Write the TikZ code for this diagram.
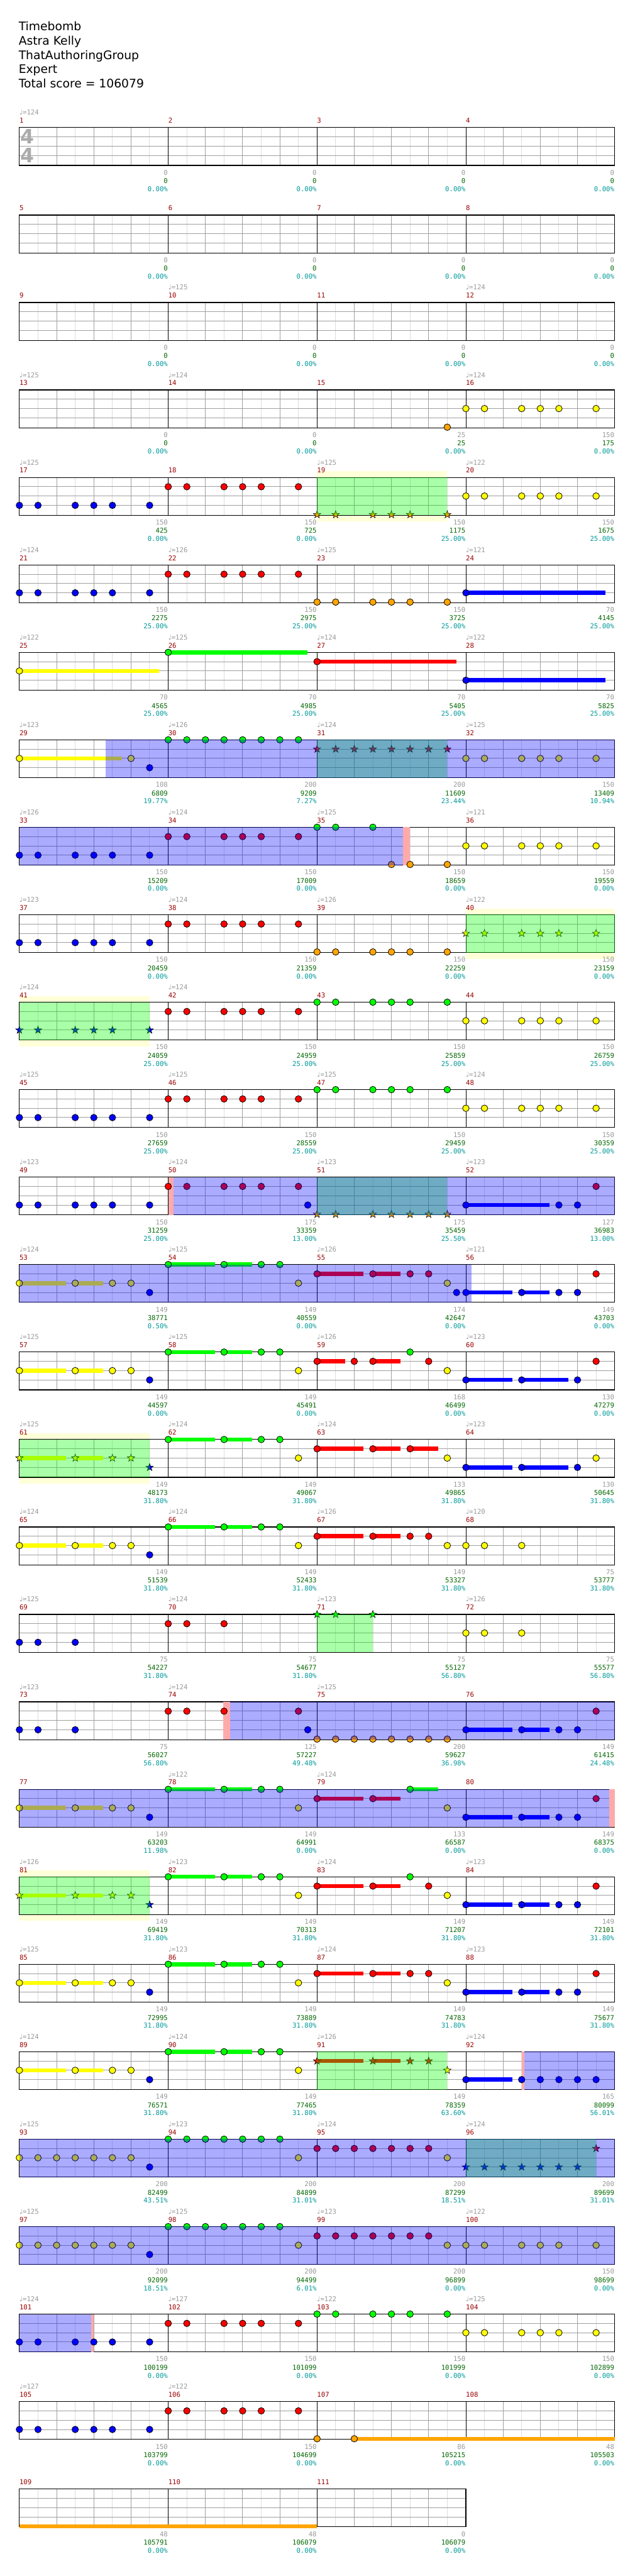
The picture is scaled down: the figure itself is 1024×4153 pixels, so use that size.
\documentclass[tikz,border=0pt]{standalone}
\usepackage{fontspec}
\setmainfont{DejaVu Sans}
\newfontfamily\monof{DejaVu Sans Mono}
\newfontfamily\dejav{DejaVu Sans}
\usetikzlibrary{shapes.geometric}
\definecolor{cG}{HTML}{00FF00}
\definecolor{cR}{HTML}{FF0000}
\definecolor{cY}{HTML}{FFFF00}
\definecolor{cB}{HTML}{0000FF}
\definecolor{cO}{HTML}{FFA500}
\definecolor{gridL}{HTML}{DDDDDD}
\definecolor{gridB}{HTML}{A0A0A0}
\definecolor{bandY}{HTML}{FFFFD8}
\definecolor{pinkC}{HTML}{FFAAAA}
\definecolor{mnumC}{HTML}{990000}
\definecolor{grayC}{HTML}{999999}
\definecolor{greenC}{HTML}{006600}
\definecolor{cyanC}{HTML}{009999}
\tikzset{
  mnum/.style={anchor=base west,inner sep=0pt,text=mnumC,font=\monof\fontsize{10.8}{12}\selectfont},
  tempo/.style={anchor=base west,inner sep=0pt,text=grayC,font=\monof\fontsize{10.8}{12}\selectfont},
  lblA/.style={anchor=base east,inner sep=0pt,text=grayC,font=\monof\fontsize{10.8}{12}\selectfont},
  lblB/.style={anchor=base east,inner sep=0pt,text=greenC,font=\monof\fontsize{10.8}{12}\selectfont},
  lblC/.style={anchor=base east,inner sep=0pt,text=cyanC,font=\monof\fontsize{10.8}{12}\selectfont},
  head/.style={anchor=base west,inner sep=0pt,text=black,font=\fontsize{19}{23}\selectfont},
  starnote/.style={star,star points=5,star point ratio=2.5,minimum size=12.6pt,inner sep=0pt,draw=black,line width=.6pt},
  spG/.style={fill=cG,fill opacity=0.34},
  spB/.style={fill=cB,fill opacity=0.33}
}
% staff: row, number of measures
\newcommand\Staff[2]{%
 \pgfmathsetmacro\sT{205.7+141*(#1)}%
 \pgfmathsetmacro\sR{31.3+240*(#2)}%
 \pgfmathtruncatemacro\nn{8*(#2)-1}%
 \pgfmathtruncatemacro\ne{8*(#2)-2}%
 \pgfmathtruncatemacro\nm{#2-1}%
 \fill[white] (31.3,\sT) rectangle (\sR,\sT+61);
 \foreach \j in {1,3,...,\nn}{\draw[gridL,line width=1pt] ({31.3+30*\j},\sT) -- ({31.3+30*\j},\sT+61);}
 \foreach \lnv in {15,30,45}{\draw[gridB,line width=1pt] (31.3,\sT+\lnv) -- (\sR,\sT+\lnv);}
 \foreach \j in {2,4,...,\ne}{\draw[gridB,line width=1pt] ({31.3+30*\j},\sT) -- ({31.3+30*\j},\sT+61);}
 \foreach \k in {1,...,\nm}{\draw[black,line width=1pt] ({31.3+240*\k},\sT) -- ({31.3+240*\k},\sT+61);}
 \draw[black,line width=1.2pt] (31.3,\sT) rectangle (\sR,\sT+61);
}
% notes: row, lane, colour, list of eighth positions
\newcommand\Nt[4]{\foreach \e in {#4}{\filldraw[fill=#3,draw=black,line width=.8pt] ({31.3+30*\e},{205.7+141*(#1)+15*(#2)}) circle[radius=5.3pt];}}
\newcommand\St[4]{\foreach \e in {#4}{\node[starnote,fill=#3] at ({31.3+30*\e},{205.7+141*(#1)+15*(#2)}) {};}}
% sustain: row, lane, colour, from, to
\newcommand\Su[5]{\fill[#3] ({31.3+30*(#4)},{205.7+141*(#1)+15*(#2)-3.3}) rectangle ({31.3+30*(#5)},{205.7+141*(#1)+15*(#2)+3.3});}
% regions: row, from, to
\newcommand\Band[3]{\fill[bandY] ({31.3+30*(#2)},{205.7+141*(#1)-10}) rectangle ({31.3+30*(#3)},{205.7+141*(#1)+71});}
\newcommand\Pk[3]{\fill[pinkC] ({31.3+30*(#2)},{205.7+141*(#1)}) rectangle ({31.3+30*(#3)},{205.7+141*(#1)+61});}
\newcommand\OvG[3]{\fill[spG] ({31.3+30*(#2)},{205.7+141*(#1)}) rectangle ({31.3+30*(#3)},{205.7+141*(#1)+61});}
\newcommand\OvB[3]{\fill[spB] ({31.3+30*(#2)},{205.7+141*(#1)}) rectangle ({31.3+30*(#3)},{205.7+141*(#1)+61});}
% measure texts: row, slot, number, tempo, a, b, c
\newcommand\Ms[7]{%
 \pgfmathsetmacro\mT{205.7+141*(#1)}%
 \pgfmathsetmacro\mL{31.3+240*(#2)}%
 \node[mnum] (m#3n) at (\mL,\mT-7.3) {#3};
 \if\relax\detokenize{#4}\relax\else\node[tempo] (m#3t) at (\mL,\mT-20.3) {{\dejav ♩}=#4};\fi
 \node[lblA] (m#3a) at (\mL+239.5,\mT+76.5) {#5};
 \node[lblB] (m#3b) at (\mL+239.5,\mT+90) {#6};
 \node[lblC] (m#3c) at (\mL+239.5,\mT+103) {#7};
}
\begin{document}
\begin{tikzpicture}[x=1pt,y=-1pt]
\useasboundingbox (0,0) rectangle (1024,4153);
\fill[white] (0,0) rectangle (1024,4153);
% header
\node[head] (title) at (30,49.3) {Timebomb};
\node[head] (artist) at (30,72.4) {Astra Kelly};
\node[head] (charter) at (30,95.5) {ThatAuthoringGroup};
\node[head] (diff) at (30,118.6) {Expert};
\node[head] (total) at (30,141.7) {Total score = 106079};
% rows 0-2
\Staff{0}{4}\Staff{1}{4}\Staff{2}{4}
\node[anchor=center,inner sep=0pt,text=black!33,font=\bfseries\fontsize{32}{32}\selectfont] (tsA) at (44.5,220) {4};
\node[anchor=center,inner sep=0pt,text=black!33,font=\bfseries\fontsize{32}{32}\selectfont] (tsB) at (44.5,250) {4};
% row 3
\Staff{3}{4}
\Nt{3}{4}{cO}{23}
\Nt{3}{2}{cY}{24,25,27,28,29,31}
% row 4
\Band{4}{16}{23}
\Staff{4}{4}
\Nt{4}{3}{cB}{0,1,3,4,5,7}
\Nt{4}{1}{cR}{8,9,11,12,13,15}
\St{4}{4}{cO}{16,17,19,20,21,23}
\Nt{4}{2}{cY}{24,25,27,28,29,31}
\OvG{4}{16}{23}
% row 5
\Staff{5}{4}
\Nt{5}{3}{cB}{0,1,3,4,5,7}
\Nt{5}{1}{cR}{8,9,11,12,13,15}
\Nt{5}{4}{cO}{16,17,19,20,21,23}
\Su{5}{3}{cB}{24}{31.5}\Nt{5}{3}{cB}{24}
% row 6
\Staff{6}{4}
\Su{6}{2}{cY}{0}{7.5}\Nt{6}{2}{cY}{0}
\Su{6}{0}{cG}{8}{15.5}\Nt{6}{0}{cG}{8}
\Su{6}{1}{cR}{16}{23.5}\Nt{6}{1}{cR}{16}
\Su{6}{3}{cB}{24}{31.5}\Nt{6}{3}{cB}{24}
% row 7
\Staff{7}{4}
\Su{7}{2}{cY}{0}{5.5}\Nt{7}{2}{cY}{0,6}
\Nt{7}{3}{cB}{7}
\Nt{7}{0}{cG}{8,9,10,11,12,13,14,15}
\St{7}{1}{cR}{16,17,18,19,20,21,22,23}
\Nt{7}{2}{cY}{24,25,27,28,29,31}
\OvG{7}{16}{23}
\OvB{7}{4.62}{32}
% row 8
\Staff{8}{4}
\Pk{8}{20.62}{21}
\Nt{8}{3}{cB}{0,1,3,4,5,7}
\Nt{8}{1}{cR}{8,9,11,12,13,15}
\Nt{8}{0}{cG}{16,17,19}
\Nt{8}{4}{cO}{20,21,23}
\Nt{8}{2}{cY}{24,25,27,28,29,31}
\OvB{8}{0}{20.62}
% row 9
\Band{9}{24}{32}
\Staff{9}{4}
\Nt{9}{3}{cB}{0,1,3,4,5,7}
\Nt{9}{1}{cR}{8,9,11,12,13,15}
\Nt{9}{4}{cO}{16,17,19,20,21,23}
\St{9}{2}{cY}{24,25,27,28,29,31}
\OvG{9}{24}{32}
% row 10
\Band{10}{0}{7}
\Staff{10}{4}
\St{10}{3}{cB}{0,1,3,4,5,7}
\Nt{10}{1}{cR}{8,9,11,12,13,15}
\Nt{10}{0}{cG}{16,17,19,20,21,23}
\Nt{10}{2}{cY}{24,25,27,28,29,31}
\OvG{10}{0}{7}
% row 11
\Staff{11}{4}
\Nt{11}{3}{cB}{0,1,3,4,5,7}
\Nt{11}{1}{cR}{8,9,11,12,13,15}
\Nt{11}{0}{cG}{16,17,19,20,21,23}
\Nt{11}{2}{cY}{24,25,27,28,29,31}
% row 12
\Staff{12}{4}
\Pk{12}{8}{8.29}
\Nt{12}{3}{cB}{0,1,3,4,5,7,15.5}
\Nt{12}{1}{cR}{8,9,11,12,13,15}
\St{12}{4}{cO}{16,17,19,20,21,22,23}
\Su{12}{3}{cB}{24}{28.5}\Nt{12}{3}{cB}{24,29,30}
\Nt{12}{1}{cR}{31}
\OvG{12}{16}{23}
\OvB{12}{8.29}{32}
% row 13
\Staff{13}{4}
\Su{13}{2}{cY}{0}{2.5}\Su{13}{2}{cY}{3}{4.5}\Nt{13}{2}{cY}{0,3,5,6}
\Nt{13}{3}{cB}{7}
\Su{13}{0}{cG}{8}{10.5}\Su{13}{0}{cG}{11}{12.5}\Nt{13}{0}{cG}{8,11,13,14}
\Nt{13}{2}{cY}{15}
\Su{13}{1}{cR}{16}{18.5}\Su{13}{1}{cR}{19}{20.5}\Nt{13}{1}{cR}{16,19,21,22}
\Nt{13}{2}{cY}{23}
\Su{13}{3}{cB}{24}{26.5}\Su{13}{3}{cB}{27}{28.5}\Nt{13}{3}{cB}{23.5,24,27,29,30}
\Nt{13}{1}{cR}{31}
\OvB{13}{0}{24.29}
% row 14
\Staff{14}{4}
\Su{14}{2}{cY}{0}{2.5}\Su{14}{2}{cY}{3}{4.5}\Nt{14}{2}{cY}{0,3,5,6}
\Nt{14}{3}{cB}{7}
\Su{14}{0}{cG}{8}{10.5}\Su{14}{0}{cG}{11}{12.5}\Nt{14}{0}{cG}{8,11,13,14}
\Nt{14}{2}{cY}{15}
\Su{14}{1}{cR}{16}{17.5}\Su{14}{1}{cR}{19}{20.5}\Nt{14}{1}{cR}{16,18,19,22}
\Nt{14}{0}{cG}{21}
\Nt{14}{2}{cY}{23}
\Su{14}{3}{cB}{24}{26.5}\Su{14}{3}{cB}{27}{29.5}\Nt{14}{3}{cB}{24,27,30}
\Nt{14}{1}{cR}{31}
% row 15
\Band{15}{0}{7}
\Staff{15}{4}
\Su{15}{2}{cY}{0}{2.5}\Su{15}{2}{cY}{3}{4.5}\St{15}{2}{cY}{0,3,5,6}
\St{15}{3}{cB}{7}
\Su{15}{0}{cG}{8}{10.5}\Su{15}{0}{cG}{11}{12.5}\Nt{15}{0}{cG}{8,11,13,14}
\Nt{15}{2}{cY}{15}
\Su{15}{1}{cR}{16}{18.5}\Su{15}{1}{cR}{19}{20.5}\Su{15}{1}{cR}{21}{22.5}\Nt{15}{1}{cR}{16,19,21}
\Nt{15}{2}{cY}{23}
\Su{15}{3}{cB}{24}{26.5}\Su{15}{3}{cB}{27}{29.5}\Nt{15}{3}{cB}{24,27,30}
\Nt{15}{2}{cY}{31}
\OvG{15}{0}{7}
% row 16
\Staff{16}{4}
\Su{16}{2}{cY}{0}{2.5}\Su{16}{2}{cY}{3}{4.5}\Nt{16}{2}{cY}{0,3,5,6}
\Nt{16}{3}{cB}{7}
\Su{16}{0}{cG}{8}{10.5}\Su{16}{0}{cG}{11}{12.5}\Nt{16}{0}{cG}{8,11,13,14}
\Nt{16}{2}{cY}{15}
\Su{16}{1}{cR}{16}{18.5}\Su{16}{1}{cR}{19}{20.5}\Nt{16}{1}{cR}{16,19,21,22}
\Nt{16}{2}{cY}{23,24,25,27}
% row 17
\Staff{17}{4}
\Nt{17}{3}{cB}{0,1,3}
\Nt{17}{1}{cR}{8,9,11}
\St{17}{0}{cG}{16,17,19}
\Nt{17}{2}{cY}{24,25,27}
\OvG{17}{16}{19}
% row 18
\Staff{18}{4}
\Pk{18}{10.97}{11.32}
\Nt{18}{3}{cB}{0,1,3,15.5}
\Nt{18}{1}{cR}{8,9,11,15}
\Nt{18}{4}{cO}{16,17,18,19,20,21,22,23}
\Su{18}{3}{cB}{24}{26.5}\Su{18}{3}{cB}{27}{28.5}\Nt{18}{3}{cB}{24,27,29,30}
\Nt{18}{1}{cR}{31}
\OvB{18}{11.32}{32}
% row 19
\Staff{19}{4}
\Pk{19}{31.69}{32}
\Su{19}{2}{cY}{0}{2.5}\Su{19}{2}{cY}{3}{4.5}\Nt{19}{2}{cY}{0,3,5,6}
\Nt{19}{3}{cB}{7}
\Su{19}{0}{cG}{8}{10.5}\Su{19}{0}{cG}{11}{12.5}\Nt{19}{0}{cG}{8,11,13,14}
\Nt{19}{2}{cY}{15}
\Su{19}{1}{cR}{16}{18.5}\Su{19}{1}{cR}{19}{20.5}\Nt{19}{1}{cR}{16,19}
\Su{19}{0}{cG}{21}{22.5}\Nt{19}{0}{cG}{21}
\Nt{19}{2}{cY}{23}
\Su{19}{3}{cB}{24}{26.5}\Su{19}{3}{cB}{27}{28.5}\Nt{19}{3}{cB}{24,27,29,30}
\Nt{19}{1}{cR}{31}
\OvB{19}{0}{31.69}
% row 20
\Band{20}{0}{7}
\Staff{20}{4}
\Su{20}{2}{cY}{0}{2.5}\Su{20}{2}{cY}{3}{4.5}\St{20}{2}{cY}{0,3,5,6}
\St{20}{3}{cB}{7}
\Su{20}{0}{cG}{8}{10.5}\Su{20}{0}{cG}{11}{12.5}\Nt{20}{0}{cG}{8,11,13,14}
\Nt{20}{2}{cY}{15}
\Su{20}{1}{cR}{16}{18.5}\Su{20}{1}{cR}{19}{20.5}\Nt{20}{1}{cR}{16,19,22}
\Nt{20}{0}{cG}{21}
\Nt{20}{2}{cY}{23}
\Su{20}{3}{cB}{24}{26.5}\Su{20}{3}{cB}{27}{28.5}\Nt{20}{3}{cB}{24,27,29,30}
\Nt{20}{1}{cR}{31}
\OvG{20}{0}{7}
% row 21
\Staff{21}{4}
\Su{21}{2}{cY}{0}{2.5}\Su{21}{2}{cY}{3}{4.5}\Nt{21}{2}{cY}{0,3,5,6}
\Nt{21}{3}{cB}{7}
\Su{21}{0}{cG}{8}{10.5}\Su{21}{0}{cG}{11}{12.5}\Nt{21}{0}{cG}{8,11,13,14}
\Nt{21}{2}{cY}{15}
\Su{21}{1}{cR}{16}{18.5}\Su{21}{1}{cR}{19}{20.5}\Nt{21}{1}{cR}{16,19,21,22}
\Nt{21}{2}{cY}{23}
\Su{21}{3}{cB}{24}{26.5}\Su{21}{3}{cB}{27}{28.5}\Nt{21}{3}{cB}{24,27,29,30}
\Nt{21}{1}{cR}{31}
% row 22
\Staff{22}{4}
\Pk{22}{27}{27.13}
\Su{22}{2}{cY}{0}{2.5}\Su{22}{2}{cY}{3}{4.5}\Nt{22}{2}{cY}{0,3,5,6}
\Nt{22}{3}{cB}{7}
\Su{22}{0}{cG}{8}{10.5}\Su{22}{0}{cG}{11}{12.5}\Nt{22}{0}{cG}{8,11,13,14}
\Nt{22}{2}{cY}{15}
\Su{22}{1}{cR}{16}{18.5}\Su{22}{1}{cR}{19}{20.5}\St{22}{1}{cR}{16,19,21,22}
\St{22}{2}{cY}{23}
\Su{22}{3}{cB}{24}{26.5}\Nt{22}{3}{cB}{24,27,28,29,30,31}
\OvG{22}{16}{23}
\OvB{22}{27.13}{32}
% row 23
\Staff{23}{4}
\Nt{23}{2}{cY}{0,1,2,3,4,5,6}
\Nt{23}{3}{cB}{7}
\Nt{23}{0}{cG}{8,9,10,11,12,13,14}
\Nt{23}{2}{cY}{15}
\Nt{23}{1}{cR}{16,17,18,19,20,21,22}
\Nt{23}{2}{cY}{23}
\St{23}{3}{cB}{24,25,26,27,28,29,30}
\St{23}{1}{cR}{31}
\OvG{23}{24}{31}
\OvB{23}{0}{32}
% row 24
\Staff{24}{4}
\Nt{24}{2}{cY}{0,1,2,3,4,5,6}
\Nt{24}{3}{cB}{7}
\Nt{24}{0}{cG}{8,9,10,11,12,13,14}
\Nt{24}{2}{cY}{15}
\Nt{24}{1}{cR}{16,17,18,19,20,21,22}
\Nt{24}{2}{cY}{23,24,25,27,28,29,31}
\OvB{24}{0}{32}
% row 25
\Staff{25}{4}
\Pk{25}{3.85}{3.98}
\Nt{25}{3}{cB}{0,1,3,4,5,7}
\Nt{25}{1}{cR}{8,9,11,12,13,15}
\Nt{25}{0}{cG}{16,17,19,20,21,23}
\Nt{25}{2}{cY}{24,25,27,28,29,31}
\OvB{25}{0}{3.85}
% row 26
\Staff{26}{4}
\Nt{26}{3}{cB}{0,1,3,4,5,7}
\Nt{26}{1}{cR}{8,9,11,12,13,15}
\Su{26}{4}{cO}{18}{32}
\Nt{26}{4}{cO}{16,18}
% row 27
\Staff{27}{3}
\Su{27}{4}{cO}{0}{16}
% measure texts
\Ms{0}{0}{1}{124}{0}{0}{0.00\%}
\Ms{0}{1}{2}{}{0}{0}{0.00\%}
\Ms{0}{2}{3}{}{0}{0}{0.00\%}
\Ms{0}{3}{4}{}{0}{0}{0.00\%}
\Ms{1}{0}{5}{}{0}{0}{0.00\%}
\Ms{1}{1}{6}{}{0}{0}{0.00\%}
\Ms{1}{2}{7}{}{0}{0}{0.00\%}
\Ms{1}{3}{8}{}{0}{0}{0.00\%}
\Ms{2}{0}{9}{}{0}{0}{0.00\%}
\Ms{2}{1}{10}{125}{0}{0}{0.00\%}
\Ms{2}{2}{11}{}{0}{0}{0.00\%}
\Ms{2}{3}{12}{124}{0}{0}{0.00\%}
\Ms{3}{0}{13}{125}{0}{0}{0.00\%}
\Ms{3}{1}{14}{124}{0}{0}{0.00\%}
\Ms{3}{2}{15}{}{25}{25}{0.00\%}
\Ms{3}{3}{16}{124}{150}{175}{0.00\%}
\Ms{4}{0}{17}{125}{150}{425}{0.00\%}
\Ms{4}{1}{18}{}{150}{725}{0.00\%}
\Ms{4}{2}{19}{125}{150}{1175}{25.00\%}
\Ms{4}{3}{20}{122}{150}{1675}{25.00\%}
\Ms{5}{0}{21}{124}{150}{2275}{25.00\%}
\Ms{5}{1}{22}{126}{150}{2975}{25.00\%}
\Ms{5}{2}{23}{125}{150}{3725}{25.00\%}
\Ms{5}{3}{24}{121}{70}{4145}{25.00\%}
\Ms{6}{0}{25}{122}{70}{4565}{25.00\%}
\Ms{6}{1}{26}{125}{70}{4985}{25.00\%}
\Ms{6}{2}{27}{124}{70}{5405}{25.00\%}
\Ms{6}{3}{28}{122}{70}{5825}{25.00\%}
\Ms{7}{0}{29}{123}{108}{6809}{19.77\%}
\Ms{7}{1}{30}{126}{200}{9209}{7.27\%}
\Ms{7}{2}{31}{124}{200}{11609}{23.44\%}
\Ms{7}{3}{32}{125}{150}{13409}{10.94\%}
\Ms{8}{0}{33}{126}{150}{15209}{0.00\%}
\Ms{8}{1}{34}{124}{150}{17009}{0.00\%}
\Ms{8}{2}{35}{125}{150}{18659}{0.00\%}
\Ms{8}{3}{36}{121}{150}{19559}{0.00\%}
\Ms{9}{0}{37}{123}{150}{20459}{0.00\%}
\Ms{9}{1}{38}{124}{150}{21359}{0.00\%}
\Ms{9}{2}{39}{126}{150}{22259}{0.00\%}
\Ms{9}{3}{40}{122}{150}{23159}{0.00\%}
\Ms{10}{0}{41}{124}{150}{24059}{25.00\%}
\Ms{10}{1}{42}{124}{150}{24959}{25.00\%}
\Ms{10}{2}{43}{}{150}{25859}{25.00\%}
\Ms{10}{3}{44}{}{150}{26759}{25.00\%}
\Ms{11}{0}{45}{125}{150}{27659}{25.00\%}
\Ms{11}{1}{46}{125}{150}{28559}{25.00\%}
\Ms{11}{2}{47}{125}{150}{29459}{25.00\%}
\Ms{11}{3}{48}{124}{150}{30359}{25.00\%}
\Ms{12}{0}{49}{123}{150}{31259}{25.00\%}
\Ms{12}{1}{50}{124}{175}{33359}{13.00\%}
\Ms{12}{2}{51}{123}{175}{35459}{25.50\%}
\Ms{12}{3}{52}{123}{127}{36983}{13.00\%}
\Ms{13}{0}{53}{124}{149}{38771}{0.50\%}
\Ms{13}{1}{54}{125}{149}{40559}{0.00\%}
\Ms{13}{2}{55}{126}{174}{42647}{0.00\%}
\Ms{13}{3}{56}{121}{149}{43703}{0.00\%}
\Ms{14}{0}{57}{125}{149}{44597}{0.00\%}
\Ms{14}{1}{58}{125}{149}{45491}{0.00\%}
\Ms{14}{2}{59}{126}{168}{46499}{0.00\%}
\Ms{14}{3}{60}{123}{130}{47279}{0.00\%}
\Ms{15}{0}{61}{125}{149}{48173}{31.80\%}
\Ms{15}{1}{62}{124}{149}{49067}{31.80\%}
\Ms{15}{2}{63}{124}{133}{49865}{31.80\%}
\Ms{15}{3}{64}{123}{130}{50645}{31.80\%}
\Ms{16}{0}{65}{124}{149}{51539}{31.80\%}
\Ms{16}{1}{66}{124}{149}{52433}{31.80\%}
\Ms{16}{2}{67}{126}{149}{53327}{31.80\%}
\Ms{16}{3}{68}{120}{75}{53777}{31.80\%}
\Ms{17}{0}{69}{125}{75}{54227}{31.80\%}
\Ms{17}{1}{70}{124}{75}{54677}{31.80\%}
\Ms{17}{2}{71}{123}{75}{55127}{56.80\%}
\Ms{17}{3}{72}{126}{75}{55577}{56.80\%}
\Ms{18}{0}{73}{123}{75}{56027}{56.80\%}
\Ms{18}{1}{74}{124}{125}{57227}{49.48\%}
\Ms{18}{2}{75}{125}{200}{59627}{36.98\%}
\Ms{18}{3}{76}{}{149}{61415}{24.48\%}
\Ms{19}{0}{77}{}{149}{63203}{11.98\%}
\Ms{19}{1}{78}{122}{149}{64991}{0.00\%}
\Ms{19}{2}{79}{124}{133}{66587}{0.00\%}
\Ms{19}{3}{80}{}{149}{68375}{0.00\%}
\Ms{20}{0}{81}{126}{149}{69419}{31.80\%}
\Ms{20}{1}{82}{123}{149}{70313}{31.80\%}
\Ms{20}{2}{83}{124}{149}{71207}{31.80\%}
\Ms{20}{3}{84}{123}{149}{72101}{31.80\%}
\Ms{21}{0}{85}{125}{149}{72995}{31.80\%}
\Ms{21}{1}{86}{123}{149}{73889}{31.80\%}
\Ms{21}{2}{87}{124}{149}{74783}{31.80\%}
\Ms{21}{3}{88}{123}{149}{75677}{31.80\%}
\Ms{22}{0}{89}{124}{149}{76571}{31.80\%}
\Ms{22}{1}{90}{124}{149}{77465}{31.80\%}
\Ms{22}{2}{91}{126}{149}{78359}{63.60\%}
\Ms{22}{3}{92}{124}{165}{80099}{56.01\%}
\Ms{23}{0}{93}{125}{200}{82499}{43.51\%}
\Ms{23}{1}{94}{123}{200}{84899}{31.01\%}
\Ms{23}{2}{95}{124}{200}{87299}{18.51\%}
\Ms{23}{3}{96}{124}{200}{89699}{31.01\%}
\Ms{24}{0}{97}{125}{200}{92099}{18.51\%}
\Ms{24}{1}{98}{125}{200}{94499}{6.01\%}
\Ms{24}{2}{99}{123}{200}{96899}{0.00\%}
\Ms{24}{3}{100}{122}{150}{98699}{0.00\%}
\Ms{25}{0}{101}{124}{150}{100199}{0.00\%}
\Ms{25}{1}{102}{127}{150}{101099}{0.00\%}
\Ms{25}{2}{103}{122}{150}{101999}{0.00\%}
\Ms{25}{3}{104}{125}{150}{102899}{0.00\%}
\Ms{26}{0}{105}{127}{150}{103799}{0.00\%}
\Ms{26}{1}{106}{122}{150}{104699}{0.00\%}
\Ms{26}{2}{107}{}{86}{105215}{0.00\%}
\Ms{26}{3}{108}{}{48}{105503}{0.00\%}
\Ms{27}{0}{109}{}{48}{105791}{0.00\%}
\Ms{27}{1}{110}{}{48}{106079}{0.00\%}
\Ms{27}{2}{111}{}{0}{106079}{0.00\%}
\end{tikzpicture}
\end{document}
